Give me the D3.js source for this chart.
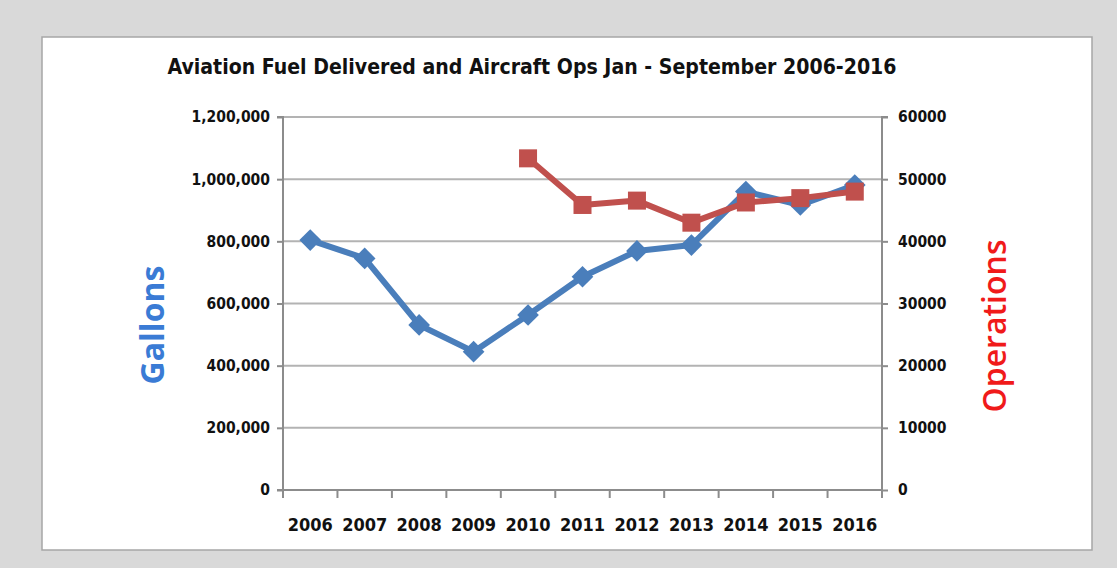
<!DOCTYPE html>
<html><head><meta charset="utf-8">
<script src="https://cdn.jsdelivr.net/npm/d3@7/dist/d3.min.js"></script>
<style>
html,body{margin:0;padding:0;background:#d9d9d9;}
svg{display:block;}
.cond{font-family:"Liberation Sans Narrow","DejaVu Sans Condensed","Open Sans",sans-serif;font-weight:bold;}
</style></head>
<body>
<svg id="c" width="1117" height="568"></svg>
<script>
const years = ["2006","2007","2008","2009","2010","2011","2012","2013","2014","2015","2016"];
const gallons = [804000,745000,531000,445000,563000,686000,769000,788000,960000,917000,981000];
const operations = [null,null,null,null,53350,45850,46550,43000,46250,46950,48000];
const leftTicks = [0,200000,400000,600000,800000,1000000,1200000];
const rightTicks = [0,10000,20000,30000,40000,50000,60000];
const title = "Aviation Fuel Delivered and Aircraft Ops Jan - September 2006-2016";

const svg = d3.select("#c");
svg.append("rect").attr("x",0).attr("y",0).attr("width",1117).attr("height",568).attr("fill","#d9d9d9");
svg.append("rect").attr("x",42).attr("y",37).attr("width",1050).attr("height",513)
  .attr("fill","#ffffff").attr("stroke","#a6a6a6").attr("stroke-width",1.5);

const L=283, R=882, T=117, B=490;
const x = d3.scaleBand().domain(years).range([L,R]).padding(0);
const yL = d3.scaleLinear().domain([0,1200000]).range([B,T]);
const yR = d3.scaleLinear().domain([0,60000]).range([B,T]);

// gridlines
svg.append("g").selectAll("line").data(leftTicks.filter(d=>d>0)).join("line")
  .attr("x1",L).attr("x2",R).attr("y1",d=>yL(d)).attr("y2",d=>yL(d))
  .attr("stroke","#b3b3b3").attr("stroke-width",2);

const fmt = d3.format(",");
// left axis
const gl = svg.append("g").attr("transform",`translate(${L},0)`)
  .call(d3.axisLeft(yL).tickValues(leftTicks).tickFormat(d=>fmt(d)).tickSize(6).tickPadding(7));
// right axis
const gr = svg.append("g").attr("transform",`translate(${R},0)`)
  .call(d3.axisRight(yR).tickValues(rightTicks).tickFormat(d=>String(d)).tickSize(6).tickPadding(10));
// bottom axis
const gb = svg.append("g").attr("transform",`translate(0,${B})`)
  .call(d3.axisBottom(x).tickSize(0).tickPadding(28));
// category boundary ticks
svg.append("g").selectAll("line").data(years.map(d=>x(d)).concat([R])).join("line")
  .attr("x1",d=>d).attr("x2",d=>d).attr("y1",B).attr("y2",B+8)
  .attr("stroke","#8c8c8c").attr("stroke-width",2);

[gl,gr,gb].forEach(g=>{
  g.selectAll(".domain").attr("stroke","#8c8c8c").attr("stroke-width",2);
  g.selectAll(".tick line").attr("stroke","#8c8c8c").attr("stroke-width",2);
  g.selectAll("text").attr("class","cond").attr("font-size",15.5).attr("fill","#111");
});
gl.select(".domain").attr("d",`M-6,${T}H0V${B}H-6`);
gr.select(".domain").attr("d",`M6,${T}H0V${B+8}`);
gb.select(".domain").attr("d",`M${L},0H${R}`);
gb.selectAll("text").attr("font-size",18);

const cx = d=>x(d)+x.bandwidth()/2;

// blue series
const blueData = years.map((y,i)=>({y,v:gallons[i]}));
svg.append("path").datum(blueData)
  .attr("d",d3.line().x(d=>cx(d.y)).y(d=>yL(d.v)))
  .attr("fill","none").attr("stroke","#4a7ebb").attr("stroke-width",6).attr("stroke-linejoin","round");
svg.append("g").selectAll("path").data(blueData).join("path")
  .attr("transform",d=>`translate(${cx(d.y)},${yL(d.v)})`)
  .attr("d",d3.symbol(d3.symbolDiamond2,300)())
  .attr("fill","#4a7ebb");

// red series
const redData = years.map((y,i)=>({y,v:operations[i]})).filter(d=>d.v!=null);
svg.append("path").datum(redData)
  .attr("d",d3.line().x(d=>cx(d.y)).y(d=>yR(d.v)))
  .attr("fill","none").attr("stroke","#c0504d").attr("stroke-width",6).attr("stroke-linejoin","round");
svg.append("g").selectAll("rect").data(redData).join("rect")
  .attr("x",d=>cx(d.y)-9).attr("y",d=>yR(d.v)-9).attr("width",18).attr("height",18)
  .attr("fill","#c0504d");

// title
svg.append("text").attr("class","cond").attr("x",532).attr("y",74)
  .attr("text-anchor","middle").attr("font-size",22).attr("fill","#111")
  .attr("textLength",729).attr("lengthAdjust","spacingAndGlyphs").text(title);

// axis titles
svg.append("text").attr("transform",`translate(164,325) rotate(-90)`)
  .attr("text-anchor","middle").attr("font-family","'Open Sans','DejaVu Sans',sans-serif")
  .attr("font-weight","bold").attr("font-size",32).attr("fill","#3a7bd5").text("Gallons");
svg.append("text").attr("transform",`translate(1006,326) rotate(-90)`)
  .attr("text-anchor","middle").attr("font-family","'Open Sans','DejaVu Sans',sans-serif")
  .attr("font-weight","600").attr("font-size",32).attr("fill","#f01a1a").text("Operations");
</script>
</body></html>
